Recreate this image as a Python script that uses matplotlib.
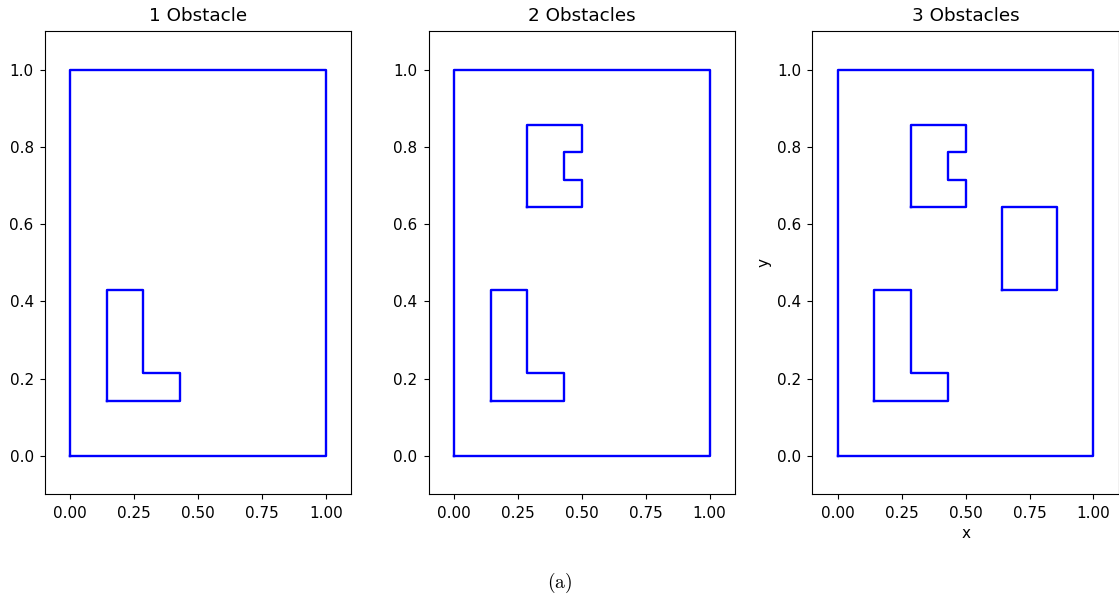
import matplotlib
matplotlib.use("Agg")
import matplotlib.pyplot as plt

# boundary of the workspace
boundary_x = [0.0, 1.0, 1.0, 0.0, 0.0]
boundary_y = [0.0, 0.0, 1.0, 1.0, 0.0]

# L shaped obstacle
l_x = [0.143, 0.429, 0.429, 0.286, 0.286, 0.143, 0.143]
l_y = [0.143, 0.143, 0.214, 0.214, 0.429, 0.429, 0.143]

# C shaped obstacle
c_x = [0.286, 0.5, 0.5, 0.429, 0.429, 0.5, 0.5, 0.286, 0.286]
c_y = [0.643, 0.643, 0.714, 0.714, 0.786, 0.786, 0.857, 0.857, 0.643]

# rectangle obstacle
r_x = [0.643, 0.857, 0.857, 0.643, 0.643]
r_y = [0.429, 0.429, 0.643, 0.643, 0.429]

titles = ["1 Obstacle", "2 Obstacles", "3 Obstacles"]
obstacles = [[(l_x, l_y)],
             [(l_x, l_y), (c_x, c_y)],
             [(l_x, l_y), (c_x, c_y), (r_x, r_y)]]

fig = plt.figure(figsize=(11.19, 5.95), dpi=100)
lefts = [0.040, 0.383, 0.726]

for i in range(3):
    ax = fig.add_axes([lefts[i], 0.169, 0.274, 0.779])
    ax.plot(boundary_x, boundary_y, color="blue", lw=1.7)
    for ox, oy in obstacles[i]:
        ax.plot(ox, oy, color="blue", lw=1.7)
    ax.set_xlim(-0.1, 1.1)
    ax.set_ylim(-0.1, 1.1)
    ax.set_xticks([0.0, 0.25, 0.5, 0.75, 1.0])
    ax.set_yticks([0.0, 0.2, 0.4, 0.6, 0.8, 1.0])
    ax.tick_params(labelsize=11, pad=4.5)
    ax.set_title(titles[i], fontsize=13.2, pad=7.5)
    if i == 2:
        ax.set_xlabel("x", fontsize=11)
        ax.set_ylabel("y", fontsize=11)

fig.text(0.5, 0.012, r"$\mathrm{(a)}$", ha="center", fontsize=14,
         math_fontfamily="cm")

fig.savefig("out.png", dpi=100)
